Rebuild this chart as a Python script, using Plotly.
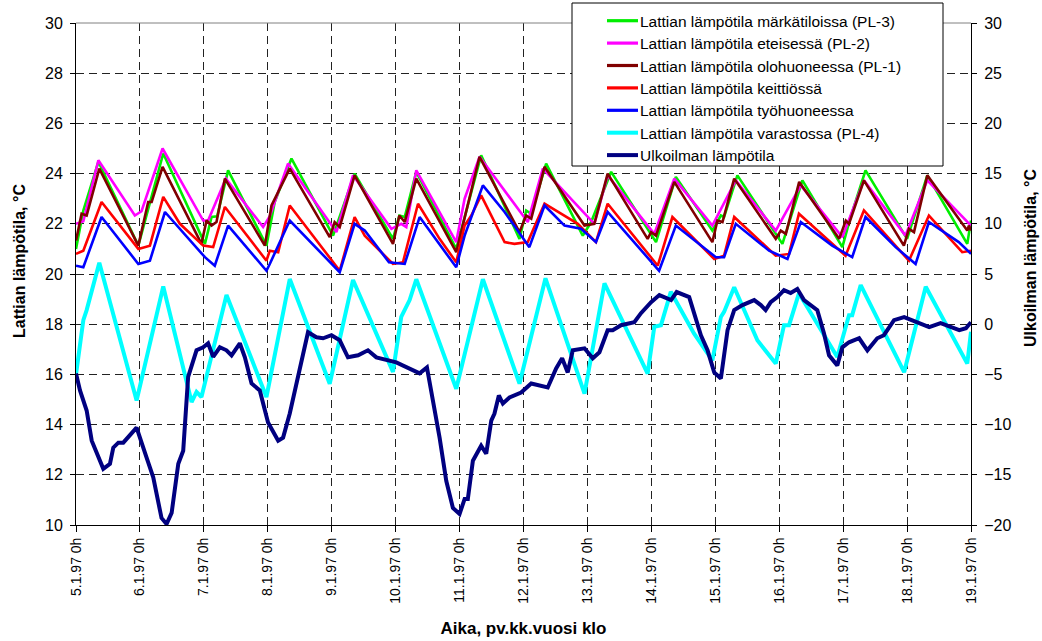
import plotly.graph_objects as go

# ---- data (time in hours from 5.1.97 0h) ----
tick_labels = ["5.1.97 0h", "6.1.97 0h", "7.1.97 0h", "8.1.97 0h", "9.1.97 0h",
               "10.1.97 0h", "11.1.97 0h", "12.1.97 0h", "13.1.97 0h", "14.1.97 0h",
               "15.1.97 0h", "16.1.97 0h", "17.1.97 0h", "18.1.97 0h", "19.1.97 0h"]

green_h = [0, 2.75, 8.4, 23.4, 32.75, 48.4, 50.9, 53, 57.1, 71.5, 74.6, 80.9, 96.5, 104.6, 119, 121.4,
           123.4, 127.75, 142.75, 152.1, 166.5, 169, 170.9, 176.5, 190.25, 193.4, 200.9, 217.75, 225.2,
           238.9, 242.1, 243.3, 248.3, 265.2, 272.7, 287.7, 290.8, 296.4, 312, 319.6, 334.6, 336]
green_t = [21.0, 22.53, 24.47, 21.13, 24.8, 21.2, 22.27, 22.3, 24.13, 21.13, 22.87, 24.6, 21.53, 24.0, 21.4,
           22.33, 22.27, 24.07, 21.0, 24.73, 21.4, 22.53, 22.4, 24.4, 21.53, 22.07, 24.07, 21.27, 23.87,
           21.73, 22.33, 22.27, 23.93, 21.2, 23.73, 21.07, 22.27, 24.13, 21.4, 23.93, 21.2, 22.13]

pink_h = [0, 2.75, 8.4, 22.1, 24.6, 32.5, 47.75, 49.6, 56.25, 70.25, 72.75, 79.6, 97.75, 104, 118.4, 122.1,
          124, 127.75, 142.75, 145.9, 151.5, 169.6, 175.25, 194.6, 199.6, 217.1, 224.6, 238.9, 247.7, 262.7,
          272.1, 287.7, 295.8, 311.4, 319.6, 336]
pink_t = [22.0, 22.1, 24.53, 22.33, 22.5, 25.0, 22.13, 22.13, 23.8, 21.87, 22.3, 24.4, 21.67, 23.93, 21.8,
          22.0, 21.87, 24.13, 21.27, 23.0, 24.67, 22.07, 24.2, 22.0, 23.93, 21.6, 23.8, 21.93, 23.73, 21.73,
          23.53, 21.47, 23.73, 21.53, 23.73, 21.93]

maroon_h = [0, 2.1, 4.0, 8.75, 23.4, 27.1, 28.4, 32.5, 47.1, 49, 50.9, 52.75, 55.9, 70.9, 73.4, 80.25, 95.25,
            97.1, 99, 104.6, 119, 121.4, 123.4, 127.75, 142.75, 151.5, 166.5, 169, 170.9, 175.9, 190.9, 194.6,
            199.6, 214.6, 215.9, 217.75, 224.6, 238.9, 240.8, 242.7, 247.1, 262.7, 264.6, 266.5, 271.5, 286.5,
            289, 290.2, 295.8, 310.8, 312.7, 314.6, 319.6, 334.6, 335.2, 336]
maroon_t = [21.33, 22.4, 22.33, 24.2, 21.13, 22.87, 22.87, 24.27, 21.2, 22.13, 21.93, 22.07, 23.8, 21.13, 22.73,
            24.2, 21.47, 22.07, 21.87, 23.93, 21.2, 22.33, 22.07, 23.8, 20.87, 24.67, 21.67, 22.33, 22.2, 24.27,
            21.93, 22.0, 24.0, 21.4, 21.67, 21.53, 23.67, 21.27, 22.13, 22.07, 23.8, 21.4, 21.73, 21.6, 23.67,
            21.4, 22.13, 22.0, 23.73, 21.13, 21.8, 21.67, 23.93, 21.73, 21.93, 21.73]

red_h = [0, 2.75, 9.6, 23.4, 27.75, 32.75, 39, 47.75, 51.5, 55.9, 71.5, 72.75, 75.9, 80.25, 99, 104.6, 108.4,
         119, 122.75, 128.4, 136.5, 142.75, 145.9, 148.4, 152.1, 160.9, 164.6, 169.6, 175.9, 182.1, 188.4,
         195.2, 199.6, 218.4, 223.9, 239.6, 243.3, 247.1, 262.7, 267.7, 271.4, 288.9, 295.8, 312.7, 320.2,
         332.7, 336]
red_t = [20.8, 20.93, 22.87, 21.0, 21.13, 23.07, 22.0, 21.13, 21.07, 22.67, 20.53, 20.93, 20.87, 22.73, 20.13,
         22.27, 21.53, 20.4, 20.47, 22.8, 21.4, 20.47, 21.93, 22.33, 23.13, 21.27, 21.2, 21.27, 22.8, 22.4, 22.0,
         21.27, 22.8, 20.33, 22.27, 20.6, 20.73, 22.27, 20.73, 20.8, 22.4, 20.73, 22.53, 20.53, 22.33, 20.87,
         20.93]

blue_h = [0, 2.75, 9.6, 23.4, 27.75, 33.4, 48.4, 52.1, 57.1, 71.5, 72.75, 80.25, 99, 104.6, 108.4, 117.5,
          123.4, 129, 142.75, 145.9, 152.75, 160.9, 170.2, 175.9, 183.4, 189.6, 195.2, 199.6, 218.9, 225.2,
          240.2, 243.3, 247.7, 260.2, 267.1, 272.1, 283.9, 291.4, 296.4, 307.7, 315.2, 320.2, 331.4, 336]
blue_t = [20.33, 20.27, 22.27, 20.4, 20.53, 22.47, 20.67, 20.33, 21.93, 20.13, 20.4, 22.13, 20.07, 22.0, 21.73,
          20.47, 20.4, 22.27, 20.27, 21.53, 23.53, 22.47, 21.07, 22.73, 21.93, 21.8, 21.27, 22.47, 20.13, 21.93,
          20.67, 20.67, 22.0, 20.93, 20.6, 22.07, 21.13, 20.67, 22.27, 21.07, 20.4, 22.07, 21.27, 20.8]

cyan_h = [0, 2.75, 4, 8.75, 22.75, 32.75, 43.4, 45.25, 47.1, 49, 56.5, 71.5, 80.25, 95.25, 104, 119, 122.1,
          125.25, 127.75, 142.75, 152.75, 166.5, 176.25, 190.9, 198.4, 214.6, 217.1, 219.6, 223.3, 232, 238.9,
          242.1, 243.3, 247.1, 255.8, 262.7, 265.8, 267.7, 271.4, 285.8, 290.2, 291.4, 294.6, 310.9, 319,
          334.6, 336]
cyan_t = [16.0, 18.16, 18.56, 20.45, 14.96, 19.5, 14.9, 15.3, 15.1, 15.9, 19.16, 15.1, 19.8, 15.63, 19.76, 16.1,
          18.29, 18.96, 19.79, 15.43, 19.79, 15.63, 19.83, 15.23, 19.63, 16.03, 17.9, 17.96, 19.29, 17.63, 16.56,
          18.29, 18.49, 19.47, 17.36, 16.43, 17.96, 17.96, 19.23, 16.69, 18.36, 18.36, 19.56, 16.09, 19.49,
          16.43, 17.7]

navy_h = [0, 1.5, 4.0, 5.9, 10.25, 12.75, 14, 15.9, 17.75, 22.75,
          26.5, 29, 32.1, 34, 35.9, 38.4, 40.25, 42.1, 45.25, 47.75,
          49.6, 51.5, 54, 56.5, 58.4, 61.5, 63.4, 65.9, 69, 72.1,
          75.9, 77.75, 80.25, 82.1, 84, 87.1, 90.25, 92.75, 95.9, 99,
          102.1, 105.9, 109.6, 112.75, 120.25, 124, 129, 131.75, 135.25, 136.5,
          139, 141.5, 144, 145.9, 147.1, 149, 152.1, 154, 155.9, 157.1,
          158.75, 160.25, 162.75, 167.1, 170.9, 174, 177.1, 180.25, 182.5, 184.6,
          186.5, 190.9, 194, 196.5, 199.6, 201.5, 204.6, 209.6, 212.1, 215.9,
          219, 223.4, 225.5, 230.2, 232.7, 234.6, 237.1, 239.6, 242.1, 243.3,
          244.6, 247.1, 250.2, 254.6, 257.1, 258.9, 260.8, 263.3, 265.8, 268.3,
          270.8, 273.3, 278.3, 280.8, 282.7, 285.8, 287.7, 290.2, 294, 297.1,
          300.8, 303.3, 307.1, 310.9, 315.9, 320.3, 324.6, 328.4, 331.6, 334.1,
          336]
navy_r = [-4.9, -6.6, -8.6, -11.6, -14.4, -13.9, -12.3, -11.8, -11.8, -10.3,
          -13.3, -15.25, -19.3, -19.9, -18.8, -13.9, -12.6, -5.25, -2.6, -2.3,
          -1.9, -3.25, -2.3, -2.6, -3.1, -1.9, -3.3, -5.9, -6.6, -9.8,
          -11.6, -11.3, -8.9, -6.6, -4.3, -0.8, -1.3, -1.4, -1.1, -1.6,
          -3.3, -3.1, -2.6, -3.3, -3.8, -4.3, -4.9, -4.3, -9.3, -11.3,
          -15.6, -18.3, -18.9, -17.4, -17.4, -13.6, -12.1, -12.9, -9.6, -8.9,
          -7.1, -7.9, -7.3, -6.8, -5.9, -6.1, -6.3, -4.4, -3.4, -4.8,
          -2.6, -2.4, -3.4, -2.8, -0.6, -0.6, -0.1, 0.2, 1.1, 2.2,
          2.9, 2.4, 3.2, 2.7, 0.7, -1.1, -2.6, -4.8, -5.4, -3.3,
          -0.6, 1.4, 1.9, 2.4, 1.9, 1.4, 2.2, 2.7, 3.4, 3.1,
          3.5, 2.4, 1.4, -0.9, -3.1, -4.1, -2.3, -1.8, -1.4, -2.6,
          -1.4, -1.1, 0.4, 0.7, 0.2, -0.3, 0.1, -0.3, -0.6, -0.4,
          0.2]

names = ["Lattian lämpötila märkätiloissa (PL-3)",
         "Lattian lämpötila eteisessä (PL-2)",
         "Lattian lämpötila olohuoneessa (PL-1)",
         "Lattian lämpötila keittiössä",
         "Lattian lämpötila työhuoneessa",
         "Lattian lämpötila varastossa (PL-4)",
         "Ulkoilman lämpötila"]
colors = ["#00ee00", "#ff00ff", "#800000", "#ff0000", "#0000ff", "#00ffff", "#000080"]
widths = [2.6, 2.6, 2.6, 2.6, 2.6, 4, 4]

FONT = "Liberation Sans, Arial, sans-serif"

# figure geometry (pixels)
W, H = 1042, 641
ML, MR, MT, MB = 76, 71, 23, 116
PW, PH = W - ML - MR, H - MT - MB


def px_x(px):
    return (px - ML) / PW


def px_y(py):
    return 1 - (py - MT) / PH


fig = go.Figure()
series = [(green_h, green_t, "y"), (pink_h, pink_t, "y"), (maroon_h, maroon_t, "y"),
          (red_h, red_t, "y"), (blue_h, blue_t, "y"), (cyan_h, cyan_t, "y"), (navy_h, navy_r, "y2")]
for (hx, vy, ax), nm, col, w in zip(series, names, colors, widths):
    fig.add_trace(go.Scatter(x=hx, y=vy, name=nm, mode="lines", yaxis=ax, showlegend=False,
                             line=dict(color=col, width=w)))

tickvals = [i * 24 for i in range(len(tick_labels))]

# legend box drawn as shapes + text
shapes = [
    dict(type="line", xref="paper", yref="paper", x0=0, x1=1, y0=1, y1=1,
         line=dict(color="#808080", width=1), layer="above"),
    dict(type="rect", xref="paper", yref="paper",
         x0=px_x(572), x1=px_x(943), y0=px_y(166), y1=px_y(3),
         line=dict(color="#000000", width=1), fillcolor="white", layer="above"),
]
annotations = []
for i, (nm, col, w) in enumerate(zip(names, colors, widths)):
    yc = 20.7 + i * 22.4
    shapes.append(dict(type="line", xref="paper", yref="paper",
                       x0=px_x(607), x1=px_x(638), y0=px_y(yc), y1=px_y(yc),
                       line=dict(color=col, width=max(w, 3.2)), layer="above"))
    annotations.append(dict(text=nm, xref="paper", yref="paper", x=px_x(638), y=px_y(yc + 0.5),
                            xanchor="left", yanchor="middle", showarrow=False,
                            font=dict(family=FONT, size=15.5, color="black")))

annotations.append(dict(text="<b>Lattian lämpötila, °C</b>", xref="paper", yref="paper",
                        x=px_x(19), y=px_y(261), xanchor="center", yanchor="middle",
                        textangle=-90, showarrow=False, font=dict(family=FONT, size=16, color="black")))
annotations.append(dict(text="<b>Ulkoilman lämpötila, °C</b>", xref="paper", yref="paper",
                        x=px_x(1030), y=px_y(258), xanchor="center", yanchor="middle",
                        textangle=-90, showarrow=False, font=dict(family=FONT, size=16, color="black")))

fig.update_layout(
    width=W, height=H,
    margin=dict(l=ML, r=MR, t=MT, b=MB),
    paper_bgcolor="white", plot_bgcolor="white",
    font=dict(family=FONT, color="black", size=15),
    showlegend=False,
    xaxis=dict(range=[0, 336], tickmode="array", tickvals=tickvals, ticktext=tick_labels,
               tickangle=-90, tickfont=dict(size=14), ticks="outside", ticklen=6,
               tickcolor="black", showline=True, linecolor="black", linewidth=1,
               showgrid=True, gridcolor="#222", griddash="8px,5px", gridwidth=1,
               zeroline=False, automargin=False,
               title=dict(text="<b>Aika, pv.kk.vuosi klo</b>", font=dict(size=17), standoff=19)),
    yaxis=dict(range=[10, 30], dtick=2, tick0=10, ticks="outside", ticklen=5, tickcolor="black",
               tickfont=dict(size=16), showline=True, linecolor="black", linewidth=1,
               showgrid=True, gridcolor="#222", griddash="8px,5px", gridwidth=1,
               zeroline=False, automargin=False, ticklabelstandoff=4),
    yaxis2=dict(range=[-20, 30], dtick=5, tick0=-20, overlaying="y", side="right",
                ticks="outside", ticklen=5, tickcolor="black", tickfont=dict(size=16),
                showline=True, linecolor="black", linewidth=1, showgrid=False,
                zeroline=False, automargin=False, ticklabelstandoff=4),
    shapes=shapes,
    annotations=annotations,
)

fig.write_html("out.html")
